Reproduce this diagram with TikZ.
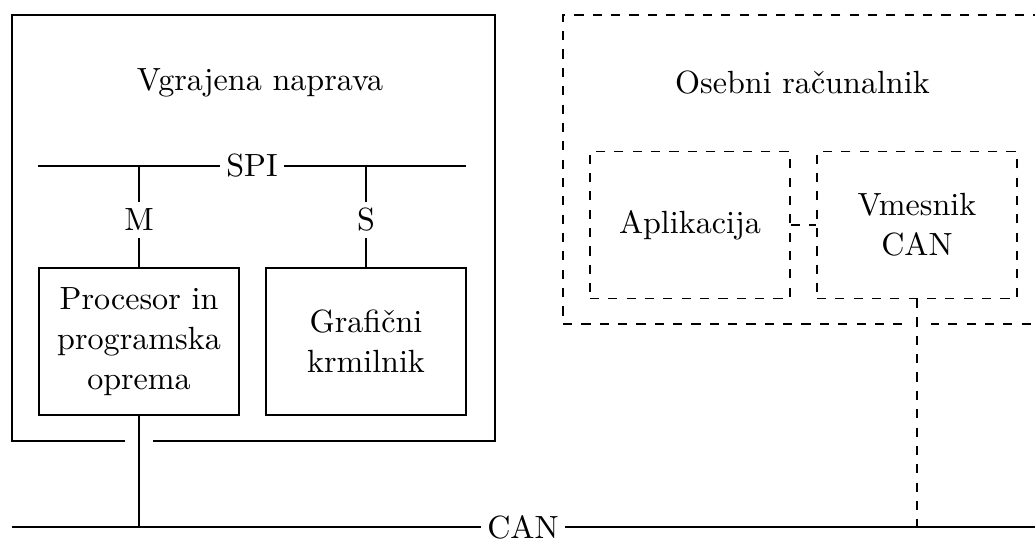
\documentclass[tikz,border=0pt]{standalone}
\usetikzlibrary{calc}
\begin{document}
\begin{tikzpicture}[font=\fontsize{10.5}{13}\selectfont, inner sep=2pt,
  box/.style={draw, minimum width=2.3cm, minimum height=1.69cm, align=center},
  halo/.style={preaction={draw=white, line width=9pt, solid, shorten <=5pt, shorten >=5pt}}]
\path[use as bounding box] (0,0) rectangle (11.897,6.207);
\clip (0,0) rectangle (11.897,6.207);
%%% the two outer frames
\node[draw, minimum width=5.552cm, minimum height=4.896cm] (emb) at (2.914,3.586) {};
\node[draw, dashed, minimum width=5.829cm, minimum height=3.551cm] (pc) at (9.386,4.2585) {};
\node (embtitle) at (2.989,5.253) {Vgrajena naprava};
\node (pctitle) at (9.224,5.253) {Osebni računalnik};
%%% SPI bus with master and slave
\coordinate (spiL) at (0.437,4.299);
\coordinate (spiR) at (5.356,4.299);
\node (spi) at (2.897,4.299) {SPI};
\draw (spiL) -- (spi) -- (spiR);
\node[box] (proc) at (1.598,2.282) {Procesor in\\programska\\oprema};
\node[box] (graf) at (4.207,2.282) {Grafični\\krmilnik};
\node (m) at (1.598,3.678) {M};
\node (s) at (4.207,3.678) {S};
\draw (proc) -- (m) -- (proc.north |- spiL);
\draw (graf) -- (s) -- (graf.north |- spiL);
%%% inside the PC
\node[box, dashed] (apl) at (7.931,3.621) {Aplikacija};
\node[box, dashed] (vme) at (10.540,3.621) {Vmesnik\\CAN};
\draw[dashed] (apl) -- (vme);
%%% CAN bus
\coordinate (canL) at (0.138,0.149);
\coordinate (canR) at (12.3,0.149);
\node (can) at (6.011,0.149) {CAN};
\draw (canL) -- (can) -- (canR);
\draw[halo] (proc) -- (proc.south |- canL);
\draw[dashed, halo] (vme) -- (vme.south |- canL);
\end{tikzpicture}
\end{document}
